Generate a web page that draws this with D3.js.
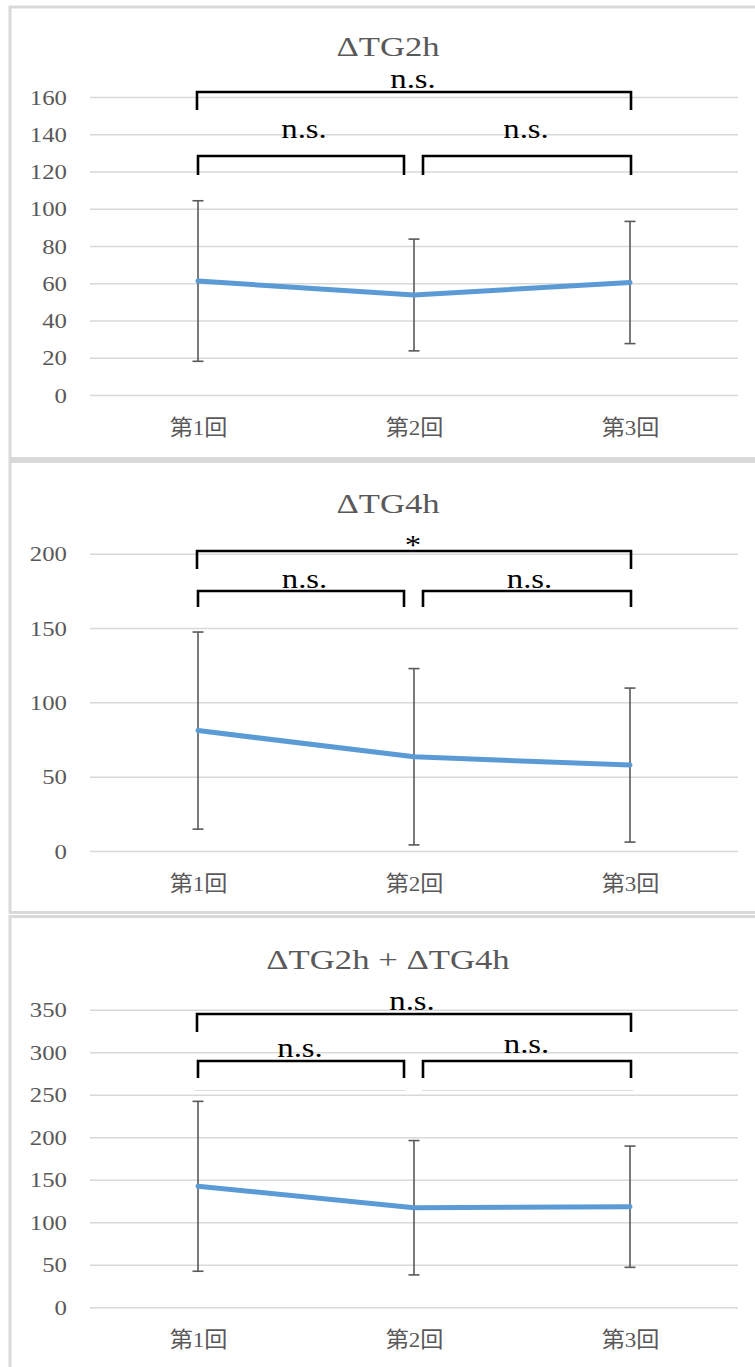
<!DOCTYPE html>
<html>
<head>
<meta charset="utf-8">
<script src="https://cdn.jsdelivr.net/npm/d3@7"></script>
<style>
  html, body { margin: 0; padding: 0; background: #ffffff; }
  svg { display: block; }
</style>
</head>
<body>
<svg id="chart" width="755" height="1367"></svg>
<script>
// Session labels shared by all three charts
const categories = ["第1回", "第2回", "第3回"];

// ΔTG2h: mean and SD per session
const tg2hMean = [61.2, 53.7, 60.4];
const tg2hSd = [43.1, 30.0, 32.8];
const tg2hTicks = [0, 20, 40, 60, 80, 100, 120, 140, 160];
// significance: 第1回-第2回, 第2回-第3回, 第1回-第3回
const tg2hSig = ["n.s.", "n.s.", "n.s."];

// ΔTG4h
const tg4hMean = [81.0, 63.4, 57.8];
const tg4hSd = [66.3, 59.3, 51.8];
const tg4hTicks = [0, 50, 100, 150, 200];
const tg4hSig = ["n.s.", "n.s.", "*"];

// ΔTG2h + ΔTG4h
const sumMean = [142.3, 117.1, 118.3];
const sumSd = [99.9, 79.0, 71.3];
const sumTicks = [0, 50, 100, 150, 200, 250, 300, 350];
const sumSig = ["n.s.", "n.s.", "n.s."];

const titles = ["ΔTG2h", "ΔTG4h", "ΔTG2h + ΔTG4h"];

const svg = d3.select("#chart");

const GRAY_TEXT = "#595959";
const GRID = "#d9d9d9";
const LINE_BLUE = "#5b9bd5";
const SERIF = "'Liberation Serif', 'Times New Roman', serif";
const CAT_FONT = "'Liberation Serif', 'Noto Sans CJK JP', serif";

const plotLeft = 90, plotRight = 738;

const x = d3.scalePoint().domain(categories).range([plotLeft, plotRight]).padding(0.5);

// Panel frames
const frames = [
  { y: 7, h: 451.5 },
  { y: 461.5, h: 451 },
  { y: 916.5, h: 470 }
];
frames.forEach(f => {
  svg.append("rect")
    .attr("x", 10).attr("y", f.y)
    .attr("width", 820).attr("height", f.h)
    .attr("fill", "#ffffff")
    .attr("stroke", GRID).attr("stroke-width", 3);
});

const panels = [
  {
    title: titles[0], mean: tg2hMean, sd: tg2hSd, ticks: tg2hTicks, sig: tg2hSig,
    zeroY: 395, maxY: 97, titleY: 56,
    brTop: 92, brTopLeg: 110, brLow: 156, brLowLeg: 175,
    topLabelY: 87.5, lowLabelY: [138, 138], lowLabelX: [304, 526], topLabelX: 413,
    faint: null
  },
  {
    title: titles[1], mean: tg4hMean, sd: tg4hSd, ticks: tg4hTicks, sig: tg4hSig,
    zeroY: 851, maxY: 553.7, titleY: 513,
    brTop: 551, brTopLeg: 569, brLow: 591, brLowLeg: 607,
    topLabelY: 554, lowLabelY: [588, 588], lowLabelX: [304.5, 529.5], topLabelX: 413,
    faint: null
  },
  {
    title: titles[2], mean: sumMean, sd: sumSd, ticks: sumTicks, sig: sumSig,
    zeroY: 1307.3, maxY: 1009.7, titleY: 969,
    brTop: 1014, brTopLeg: 1032, brLow: 1061, brLowLeg: 1078,
    topLabelY: 1010, lowLabelY: [1057, 1053], lowLabelX: [300, 526.5], topLabelX: 412,
    faint: 1090.5
  }
];

panels.forEach(p => {
  const g = svg.append("g");
  const y = d3.scaleLinear()
    .domain([0, d3.max(p.ticks)])
    .range([p.zeroY, p.maxY]);

  // Title
  g.append("text")
    .attr("transform", `translate(388,${p.titleY}) scale(1.24,1)`)
    .attr("text-anchor", "middle")
    .attr("font-family", SERIF)
    .attr("font-size", 28)
    .attr("fill", GRAY_TEXT)
    .text(p.title);

  // Value axis with gridlines
  const yAxis = d3.axisLeft(y)
    .tickValues(p.ticks)
    .tickSize(-(plotRight - plotLeft))
    .tickFormat(d3.format("d"));
  const ya = g.append("g")
    .attr("transform", `translate(${plotLeft},0)`)
    .call(yAxis);
  ya.select(".domain").remove();
  ya.selectAll(".tick line")
    .attr("stroke", GRID)
    .attr("stroke-width", 1.5);
  ya.selectAll(".tick text")
    .attr("x", null).attr("dy", null)
    .attr("transform", "translate(-23,7) scale(1.18,1)")
    .attr("text-anchor", "end")
    .attr("font-family", SERIF)
    .attr("font-size", 21)
    .attr("fill", GRAY_TEXT);

  // Category axis
  const xa = g.append("g")
    .attr("transform", `translate(0,${p.zeroY})`)
    .call(d3.axisBottom(x).tickSize(0));
  xa.select(".domain").remove();
  xa.selectAll(".tick text")
    .attr("y", null).attr("dy", null)
    .attr("transform", "translate(0,40) scale(1.05,1)")
    .attr("text-anchor", "middle")
    .attr("font-family", CAT_FONT)
    .attr("font-size", 22)
    .attr("fill", GRAY_TEXT);

  // Error bars (mean ± SD)
  const rows = categories.map((c, i) => ({ c, m: p.mean[i], s: p.sd[i] }));
  const eb = g.append("g")
    .attr("stroke", GRAY_TEXT)
    .attr("stroke-width", 1.6)
    .attr("fill", "none");
  eb.selectAll("line.v").data(rows).join("line")
    .attr("class", "v")
    .attr("x1", d => x(d.c)).attr("x2", d => x(d.c))
    .attr("y1", d => y(d.m + d.s)).attr("y2", d => y(d.m - d.s));
  ["hi", "lo"].forEach(k => {
    eb.selectAll(`line.${k}`).data(rows).join("line")
      .attr("class", k)
      .attr("x1", d => x(d.c) - 5.5).attr("x2", d => x(d.c) + 5.5)
      .attr("y1", d => y(k === "hi" ? d.m + d.s : d.m - d.s))
      .attr("y2", d => y(k === "hi" ? d.m + d.s : d.m - d.s));
  });

  // Mean line
  const line = d3.line().x(d => x(d.c)).y(d => y(d.m));
  g.append("path")
    .datum(rows)
    .attr("d", line)
    .attr("fill", "none")
    .attr("stroke", LINE_BLUE)
    .attr("stroke-width", 5)
    .attr("stroke-linecap", "round")
    .attr("stroke-linejoin", "round");

  // Significance brackets
  const x1 = x(categories[0]) - 1;
  const x2 = x(categories[1]);
  const x3 = x(categories[2]) + 1;
  const bracket = (xa0, xb0, yTop, yLeg) =>
    `M${xa0},${yLeg} V${yTop} H${xb0} V${yLeg}`;
  const br = g.append("g")
    .attr("fill", "none")
    .attr("stroke", "#000000")
    .attr("stroke-width", 2.6);
  br.append("path").attr("d", bracket(x1, x3, p.brTop, p.brTopLeg));
  br.append("path").attr("d", bracket(x1 + 1, x2 - 10, p.brLow, p.brLowLeg));
  br.append("path").attr("d", bracket(x2 + 9, x3, p.brLow, p.brLowLeg));

  if (p.faint !== null) {
    g.append("g")
      .attr("stroke", "#dcdcdc").attr("stroke-width", 1)
      .selectAll("line")
      .data([[x1 - 2, x2 - 9], [x2 + 8, x3 + 2]])
      .join("line")
      .attr("x1", d => d[0]).attr("x2", d => d[1])
      .attr("y1", p.faint).attr("y2", p.faint);
  }

  const sigText = (tx, ty, label) => {
    g.append("text")
      .attr("transform", `translate(${tx},${ty}) scale(1.17,1)`)
      .attr("text-anchor", "middle")
      .attr("font-family", SERIF)
      .attr("font-size", 28)
      .attr("fill", "#000000")
      .text(label);
  };
  sigText(p.lowLabelX[0], p.lowLabelY[0], p.sig[0]);
  sigText(p.lowLabelX[1], p.lowLabelY[1], p.sig[1]);
  sigText(p.topLabelX, p.topLabelY, p.sig[2]);
});
</script>
</body>
</html>
